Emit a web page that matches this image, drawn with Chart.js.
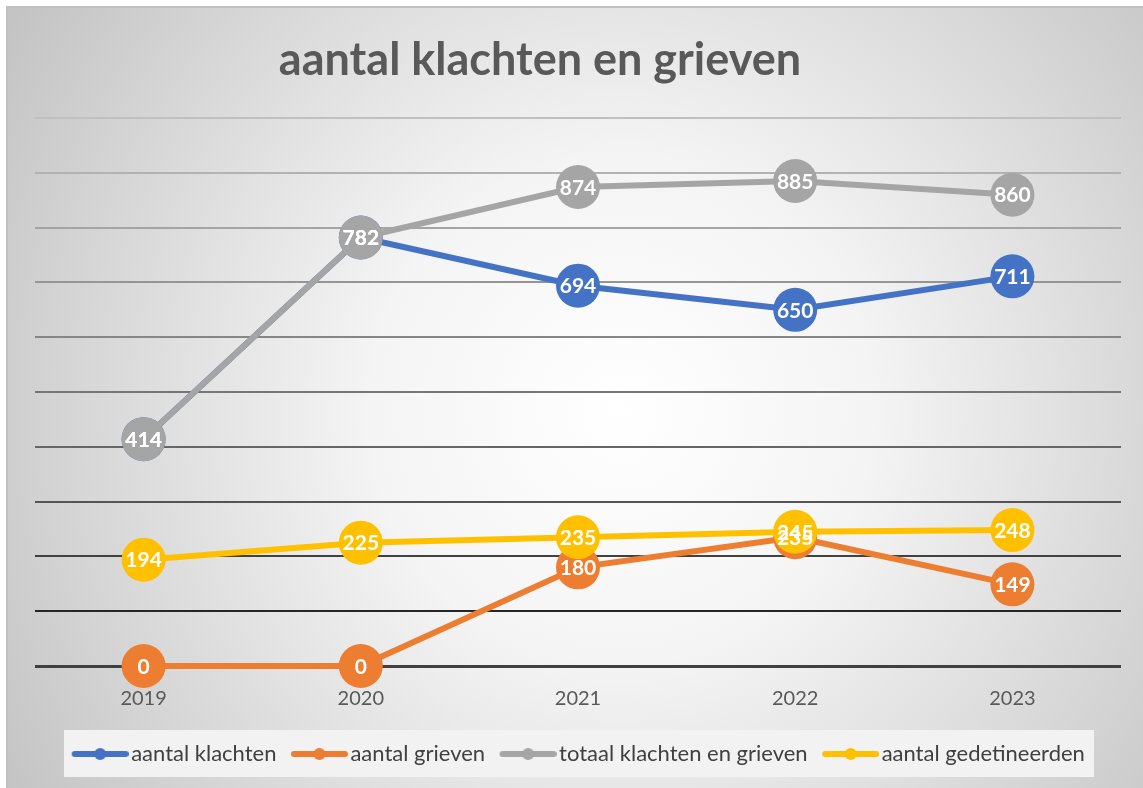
<!DOCTYPE html>
<html>
<head>
<meta charset="utf-8">
<script src="https://cdn.jsdelivr.net/npm/chart.js@4.4.1/dist/chart.umd.min.js"></script>
<style>
  html, body { margin: 0; padding: 0; background: #fff; }
  #wrap { width: 1143px; height: 788px; position: relative; }
</style>
</head>
<body>
<div id="wrap"><canvas id="chart"></canvas></div>
<script>
const years = ['2019', '2020', '2021', '2022', '2023'];
const klachten = [414, 782, 694, 650, 711];
const grieven = [0, 0, 180, 235, 149];
const totaal = [414, 782, 874, 885, 860];
const gedetineerden = [194, 225, 235, 245, 248];
const yTicks = [0, 100, 200, 300, 400, 500, 600, 700, 800, 900, 1000];

const FONT = 'Lato, "Open Sans", sans-serif';

// legend symbol: line with a dot in the middle
function legendSymbol(color) {
  const c = document.createElement('canvas');
  c.width = 66; c.height = 14;
  const g = c.getContext('2d');
  g.strokeStyle = color;
  g.lineWidth = 6;
  g.lineCap = 'round';
  g.beginPath(); g.moveTo(12, 7); g.lineTo(63, 7); g.stroke();
  g.fillStyle = color;
  g.beginPath(); g.arc(37.5, 7, 6, 0, Math.PI * 2); g.fill();
  return c;
}

// background, frame, title and legend panel
const backgroundPlugin = {
  id: 'bg',
  afterLayout(chart) {
    // push the legend a bit lower, like the original
    const lg = chart.legend;
    if (lg) { lg.top += 5; lg.bottom += 5; }
  },
  beforeDraw(chart) {
    const ctx = chart.ctx;
    ctx.save();
    ctx.fillStyle = '#fff';
    ctx.fillRect(0, 0, chart.width, chart.height);
    const grad = ctx.createRadialGradient(620, 410, 0, 620, 410, 720);
    grad.addColorStop(0, '#ffffff');
    grad.addColorStop(0.35, '#f4f4f4');
    grad.addColorStop(1, '#c4c4c4');
    ctx.fillStyle = grad;
    ctx.fillRect(6, 6, chart.width - 6, chart.height - 6);
    ctx.strokeStyle = '#c0c0c0';
    ctx.lineWidth = 2;
    ctx.strokeRect(7, 7, chart.width, chart.height);
    // title
    ctx.fillStyle = '#595959';
    ctx.font = 'bold 45px ' + FONT;
    ctx.textAlign = 'center';
    ctx.textBaseline = 'alphabetic';
    ctx.fillText('aantal klachten en grieven', 540, 75);
    // legend panel
    ctx.fillStyle = '#f2f2f2';
    ctx.fillRect(64, 730, 1030, 47);
    ctx.restore();
  }
};

// white value labels inside markers, drawn on top of all series
const valueLabels = {
  id: 'valueLabels',
  afterDatasetsDraw(chart) {
    const ctx = chart.ctx;
    ctx.save();
    ctx.fillStyle = '#ffffff';
    ctx.font = 'bold 21px ' + FONT;
    ctx.textAlign = 'center';
    ctx.textBaseline = 'middle';
    chart.data.datasets.forEach((ds, di) => {
      chart.getDatasetMeta(di).data.forEach((pt, i) => {
        ctx.fillText(String(ds.data[i]), pt.x, pt.y + 1);
      });
    });
    ctx.restore();
  }
};

function gridColor(v) {
  if (v === 0) return '#404040';
  const t = (v - 100) / 900;
  const a = 0x26, b = 0xc0;
  const c = Math.round(a + (b - a) * Math.pow(t, 0.8));
  return 'rgb(' + c + ',' + c + ',' + c + ')';
}

function series(label, data, color, order) {
  return {
    label: label,
    data: data,
    borderColor: color,
    backgroundColor: color,
    pointBackgroundColor: color,
    pointBorderColor: color,
    borderWidth: 6,
    pointRadius: 22,
    pointHoverRadius: 22,
    pointBorderWidth: 0,
    tension: 0,
    clip: false,
    order: order
  };
}

new Chart(document.getElementById('chart'), {
  type: 'line',
  data: {
    labels: years,
    datasets: [
      series('aantal klachten', klachten, '#4472C4', 4),
      series('aantal grieven', grieven, '#ED7D31', 3),
      series('totaal klachten en grieven', totaal, '#A5A5A5', 2),
      series('aantal gedetineerden', gedetineerden, '#FFC000', 1)
    ]
  },
  options: {
    responsive: true,
    maintainAspectRatio: false,
    animation: false,
    layout: { padding: { left: 35, right: 22, top: 118, bottom: 18 } },
    plugins: {
      title: { display: false },
      tooltip: { enabled: false },
      legend: {
        position: 'bottom',
        reverse: true,
        labels: {
          usePointStyle: true,
          pointStyleWidth: 49,
          padding: 14,
          color: '#404040',
          font: { family: FONT, size: 22 },
          generateLabels(chart) {
            const items = Chart.defaults.plugins.legend.labels.generateLabels(chart);
            items.forEach(it => {
              it.pointStyle = legendSymbol(chart.data.datasets[it.datasetIndex].borderColor);
            });
            return items;
          }
        }
      }
    },
    scales: {
      x: {
        offset: true,
        grid: { display: false },
        border: { display: false },
        ticks: { color: '#595959', font: { family: FONT, size: 20 }, padding: 13 }
      },
      y: {
        min: 0,
        max: 1000,
        afterBuildTicks(axis) { axis.ticks = yTicks.map(v => ({ value: v })); },
        ticks: { display: false },
        border: { display: false },
        grid: {
          drawTicks: false,
          color: ctx => gridColor(ctx.tick.value),
          lineWidth: ctx => (ctx.tick.value === 0 ? 3 : 2)
        }
      }
    }
  },
  plugins: [backgroundPlugin, valueLabels]
});
</script>
</body>
</html>
